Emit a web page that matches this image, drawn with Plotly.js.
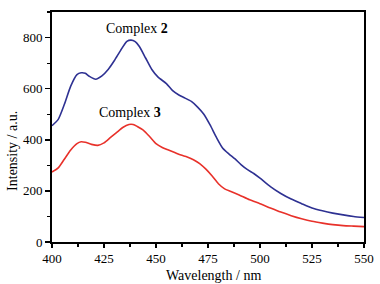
<!DOCTYPE html>
<html>
<head>
<meta charset="utf-8">
<script src="https://cdn.plot.ly/plotly-3.0.1.min.js"></script>
<style>html,body{margin:0;padding:0;background:#fff;}#chart{width:380px;height:284px;}</style>
</head>
<body>
<div id="chart"></div>
<script>
const wl2 = [400,403,406,409,412,414,416,418,421,424,427,430,433,436,438,440,442,445,448,451,455,458,461,464,467,470,473,476,479,482,485,488,491,494,497,500,505,510,515,520,525,530,535,540,545,550];
const complex2 = [455,480,540,610,655,662,660,648,637,650,675,710,750,785,790,784,765,720,675,645,620,592,575,563,550,528,500,458,410,368,345,325,302,283,268,250,217,190,168,150,133,122,113,106,100,96];
const wl3 = [400,403,406,409,412,414,416,419,422,425,428,431,434,437,439,441,444,447,450,453,456,459,462,465,468,471,474,477,480,483,486,490,495,500,505,510,515,520,525,530,535,540,545,550];
const complex3 = [274,290,325,360,385,392,390,382,378,388,408,428,448,460,460,452,437,412,385,370,360,350,340,333,322,307,285,258,228,208,198,184,165,150,133,117,103,91,81,74,68,64,62,60];
const labels = ["Complex <b>2</b>", "Complex <b>3</b>"];
const labelX = [441, 437.5];
const labelY = [835, 505];
const xTicks = [400,425,450,475,500,525,550];
const yTicks = [0,200,400,600,800];
const xTitle = "Wavelength / nm";
const yTitle = "Intensity / a.u.";

const fam = "Liberation Serif, Times New Roman, serif";
const font = {family: fam, size: 13, color: "#000"};
const titleFont = {family: fam, size: 14, color: "#000"};
const traces = [
  {x: wl2, y: complex2, mode: "lines", line: {color: "#2e3192", width: 1.6, shape: "spline", smoothing: 0.6}, hoverinfo: "skip"},
  {x: wl3, y: complex3, mode: "lines", line: {color: "#e8312a", width: 1.6, shape: "spline", smoothing: 0.6}, hoverinfo: "skip"}
];
const annotations = labels.map((t, i) => ({x: labelX[i], y: labelY[i], xref: "x", yref: "y", text: t, showarrow: false, font: titleFont}));
annotations.push({x: 0.519, y: -0.108, xref: "paper", yref: "paper", text: xTitle, showarrow: false, font: titleFont, xanchor: "center", yanchor: "top", borderpad: 0});
annotations.push({x: -0.125, y: 0.396, xref: "paper", yref: "paper", text: yTitle, showarrow: false, font: titleFont, textangle: -90, xanchor: "center", yanchor: "middle"});
const layout = {
  width: 380, height: 284,
  margin: {l: 52, r: 16, t: 12, b: 42},
  paper_bgcolor: "#fff", plot_bgcolor: "#fff",
  showlegend: false,
  font: font,
  xaxis: {
    range: [400, 550], tickvals: xTicks, ticktext: xTicks.map(String),
    ticks: "outside", ticklen: 4, tickwidth: 1.5, tickcolor: "#000",
    minor: {dtick: 12.5, tick0: 400, ticks: "outside", ticklen: 3, tickwidth: 1.2, tickcolor: "#000", showgrid: false},
    showline: true, linewidth: 1.8, linecolor: "#000", mirror: true,
    showgrid: false, zeroline: false,
    tickfont: font
  },
  yaxis: {
    range: [0, 900], tickvals: yTicks, ticktext: yTicks.map(String),
    ticks: "outside", ticklen: 5, tickwidth: 1.5, tickcolor: "#000",
    minor: {dtick: 100, tick0: 0, ticks: "outside", ticklen: 3, tickwidth: 1.2, tickcolor: "#000", showgrid: false},
    showline: true, linewidth: 1.8, linecolor: "#000", mirror: true,
    showgrid: false, zeroline: false,
    tickfont: font
  },
  annotations: annotations
};
Plotly.newPlot("chart", traces, layout, {staticPlot: true, displayModeBar: false});
</script>
</body>
</html>
